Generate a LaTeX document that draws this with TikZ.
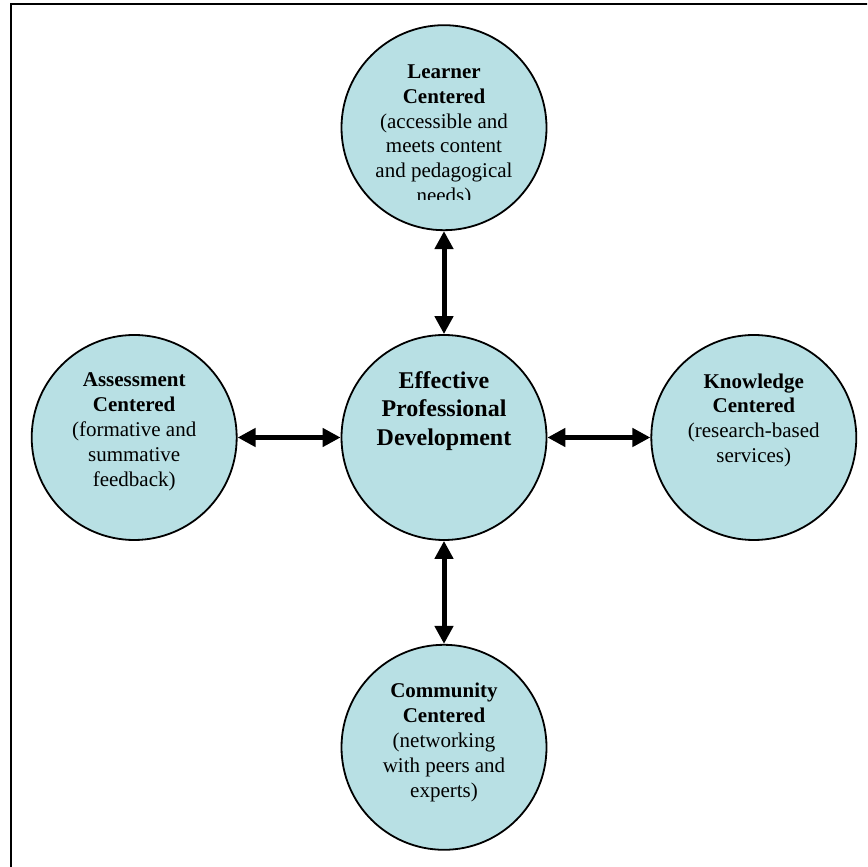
\documentclass[tikz,border=0pt]{standalone}
\usepackage{fontspec}
\setmainfont{Liberation Serif}
\usetikzlibrary{positioning,arrows.meta}
\definecolor{hubfill}{RGB}{184,224,228}

\begin{document}
\begin{tikzpicture}[x=1pt,y=1pt,node distance=51.5pt,
      hub/.style={circle,draw,line width=0.9pt,fill=hubfill,minimum size=102.5pt,inner sep=0pt},
      blurb/.style={anchor=north,align=center,inner sep=0pt,font=\fontsize{10.5}{12.4}\selectfont},
      link/.style={{Triangle[width=9pt,length=9pt]}-{Triangle[width=9pt,length=9pt]},line width=2.5pt}]
      \clip (0,0) rectangle (433.5,433.5);
      % frame, only top and left edge fall on the page
      \draw[line width=1pt] (5.35,431.5) rectangle (460,-30);
      \node[hub] (epd) at (222,214.75) {};
      \node[hub,above=of epd] (learner) {};
      \node[hub,left=of epd] (assess) {};
      \node[hub,right=of epd] (know) {};
      \node[hub,below=of epd] (comm) {};
      \draw[link] (learner) -- (epd);
      \draw[link] (assess) -- (epd);
      \draw[link] (epd) -- (know);
      \draw[link] (epd) -- (comm);
      \begin{scope}
        \clip (100,333.5) rectangle (350,433.5);
        \node[blurb] (learner-txt) at ([yshift=-20pt]learner.north)
          {\textbf{Learner}\\\textbf{Centered}\\(accessible and\\meets content\\and pedagogical\\needs)};
      \end{scope}
      \node[blurb] (assess-txt) at ([yshift=-19.3pt]assess.north)
        {\textbf{Assessment}\\\textbf{Centered}\\(formative and\\summative\\feedback)};
      \node[blurb] (know-txt) at ([yshift=-19.5pt]know.north)
        {\textbf{Knowledge}\\\textbf{Centered}\\(research-based\\services)};
      \node[blurb] (comm-txt) at ([yshift=-19.5pt]comm.north)
        {\textbf{Community}\\\textbf{Centered}\\(networking\\with peers and\\experts)};
      \node[blurb,font=\fontsize{12}{14.2}\selectfont\bfseries] (epd-txt) at ([yshift=-18.5pt]epd.north)
        {Effective\\Professional\\Development};
\end{tikzpicture}
\end{document}
